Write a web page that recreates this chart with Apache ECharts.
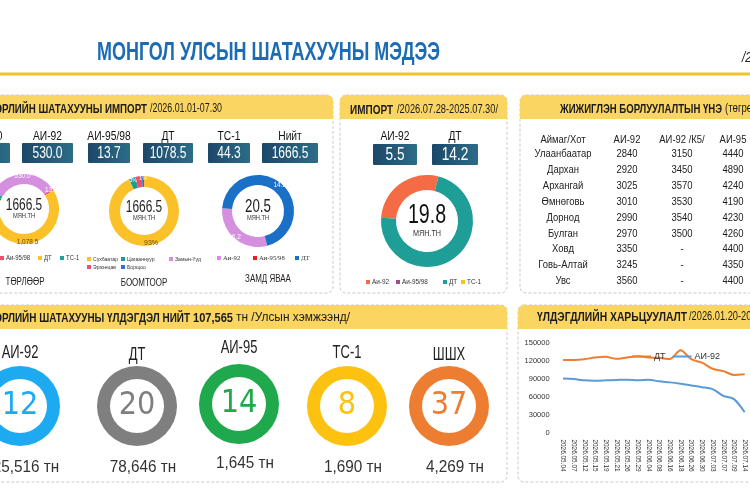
<!DOCTYPE html>
<html><head><meta charset="utf-8">
<script src="https://cdn.jsdelivr.net/npm/echarts@6/dist/echarts.min.js"></script>
<style>html,body{margin:0;padding:0;background:#fff}#c{width:750px;height:500px}</style>
</head><body><div id="c"></div>
<script>
// ---------- DATA ----------
const mainTitle = 'МОНГОЛ УЛСЫН ШАТАХУУНЫ МЭДЭЭ';
const impCats = ['АИ-80', 'АИ-92', 'АИ-95/98', 'ДТ', 'ТС-1', 'Нийт'];
const impBoxVals = ['0.0', '530.0', '13.7', '1078.5', '44.3', '1666.5'];
const typeNames = ['Аи-92', 'Аи-95/98', 'ДТ', 'ТС-1'];
const typeVals = [530.0, 13.7, 1078.5, 44.3];
const portNames = ['Сүхбаатар', 'Цагааннуур', 'Замын-Үүд', 'Эрээнцав', 'Борщоо'];
const portVals = [93, 3, 0, 3, 1];
const roadNames = ['Аи-92', 'Аи-95/98', 'ДТ'];
const roadVals = [6.2, 0, 14.2];
const weekCats = ['АИ-92', 'ДТ'];
const weekBoxVals = ['5.5', '14.2'];
const weekNames = ['Аи-92', 'Аи-95/98', 'ДТ', 'ТС-1'];
const weekVals = [5.5, 0, 14.2, 0];
const centerTotals = ['1666.5', '1666.5', '20.5', '19.8'];
const tblHead = ['Аймаг/Хот', 'АИ-92', 'АИ-92 /К5/', 'АИ-95'];
const tblPlaces = ['Улаанбаатар', 'Дархан', 'Архангай', 'Өмнөговь', 'Дорнод', 'Булган', 'Ховд', 'Говь-Алтай', 'Увс'];
const tblAi92 = ['2840', '2920', '3025', '3010', '2990', '2970', '3350', '3245', '3560'];
const tblAi92k5 = ['3150', '3450', '3570', '3530', '3540', '3500', '-', '-', '-'];
const tblAi95 = ['4440', '4890', '4240', '4190', '4230', '4260', '4400', '4350', '4400'];
const resNames = ['АИ-92', 'ДТ', 'АИ-95', 'ТС-1', 'ШШХ'];
const resDays = [12, 20, 14, 8, 37];
const resTons = ['25,516', '78,646', '1,645', '1,690', '4,269'];
const dates = ['2026.05.04', '2026.05.07', '2026.05.12', '2026.05.15', '2026.05.19', '2026.05.21', '2026.05.26', '2026.05.29', '2026.06.04', '2026.06.08', '2026.06.16', '2026.06.18', '2026.06.26', '2026.06.30', '2026.07.03', '2026.07.07', '2026.07.09', '2026.07.14'];
const dtStock = [121700, 121700, 122800, 125700, 126800, 123400, 125700, 128000, 125700, 125100, 123000, 138000, 122800, 117100, 106800, 102800, 96500, 97500];
const ai92Stock = [90300, 89700, 87400, 86900, 87400, 88000, 88600, 87400, 88600, 85700, 84000, 81700, 78900, 76000, 72600, 61500, 56000, 34000];
const yTicks = [0, 30000, 60000, 90000, 120000, 150000];

// ---------- STYLE / LAYOUT ----------
const LS = "'Liberation Sans',Arial,sans-serif";
const typeColors = ['#d58fdf', '#ef4f6d', '#fbc128', '#1fa598'];
const portColors = ['#fbc128', '#1f9a94', '#d58fdf', '#ef4f6d', '#2f6fd6'];
const roadColors = ['#d58fdf', '#e81e25', '#1a6fc6'];
const weekColors = ['#f36c45', '#a34c8b', '#1f9e98', '#f5c518'];
const resColors = ['#1eaaf1', '#7f7f7f', '#20a84c', '#fcc20f', '#ed7d31'];
const HEAD = '#fbd562';

const meas = document.createElement('canvas').getContext('2d');
function tw(text, font) { meas.font = font; return meas.measureText(text).width; }

const chart = echarts.init(document.getElementById('c'), null, {renderer: 'canvas'});
const g = [];
function txt(x, y, text, font, fill, align, sx) {
  g.push({type: 'text', x: x, y: y, z: 10, silent: true, scaleX: sx || 1,
    style: {text: text, font: font, fill: fill || '#222', textAlign: align || 'center', textVerticalAlign: 'middle'}});
}
function txtW(x, y, text, font, fill, align, width, measText) {
  txt(x, y, text, font, fill, align, width / tw(measText || text, font));
}
function rect(x, y, w, h, style, r) {
  g.push({type: 'rect', silent: true, z: 1, shape: {x: x, y: y, width: w, height: h, r: r || 0}, style: style});
}
const boxGrad = () => new echarts.graphic.LinearGradient(0, 0, 1, 0, [{offset: 0, color: '#1c486a'}, {offset: 1, color: '#2c6c86'}]);
const dashed = {fill: 'none', stroke: '#c9c9c9', lineWidth: 1, lineDash: [3, 2]};

// title
txtW(268.5, 53, mainTitle, "bold 25px " + LS, '#1b6cb5', 'center', 343);
txt(742, 58, '/2026.07.30/', "italic 14px " + LS, '#222', 'left', 0.85);
rect(0, 72.5, 750, 3, {fill: '#f3c232'});

// panels
const panels = [[-10, 95, 343, 198], [340, 95, 167, 198], [520, 95, 250, 198], [-10, 305, 517, 177], [518, 305, 250, 177]];
panels.forEach(p => {
  rect(p[0], p[1], p[2], p[3], dashed, 6);
  rect(p[0], p[1], p[2], 24, {fill: HEAD}, [6, 6, 0, 0]);
});
// headers
const HB = "bold 13px " + LS, HR = "12px " + LS;
txt(147, 109, 'ТӨРЛИЙН ШАТАХУУНЫ ИМПОРТ', HB, '#1a1a1a', 'right', 145 / tw('РЛИЙН ШАТАХУУНЫ ИМПОРТ', HB));
txtW(150, 109, '/2026.01.01-07.30', HR, '#1a1a1a', 'left', 72);
txtW(350, 110, 'ИМПОРТ', HB, '#1a1a1a', 'left', 43);
txtW(397, 110, '/2026.07.28-2025.07.30/', HR, '#1a1a1a', 'left', 101);
txtW(560, 109, 'ЖИЖИГЛЭН БОРЛУУЛАЛТЫН ҮНЭ', HB, '#1a1a1a', 'left', 162);
txt(725, 109, '(төгрөг)', HR, '#1a1a1a', 'left', 0.8);
txt(190, 318, 'ТӨРЛИЙН ШАТАХУУНЫ ҮЛДЭГДЭЛ НИЙТ', HB, '#1a1a1a', 'right', 188 / tw('РЛИЙН ШАТАХУУНЫ ҮЛДЭГДЭЛ НИЙТ', HB));
txtW(193, 318, '107,565', HB, '#1a1a1a', 'left', 40);
txtW(236, 318, 'тн /Улсын хэмжээнд/', HR, '#1a1a1a', 'left', 114);
txtW(537, 317, 'ҮЛДЭГДЛИЙН ХАРЬЦУУЛАЛТ', HB, '#1a1a1a', 'left', 150);
txtW(689, 317, '/2026.01.20-2026.07.30/', HR, '#1a1a1a', 'left', 101);

// import boxes
const impX = [-12, 47.5, 109, 168, 229, 290];
const impW = [44, 51, 42, 50, 42, 56];
impCats.forEach((c, i) => {
  txt(impX[i], 137, c, "12.5px " + LS, '#111', 'center', 0.82);
  rect(impX[i] - impW[i] / 2, 143, impW[i], 20, {fill: boxGrad()}, 1);
  txt(impX[i], 153.5, impBoxVals[i], "16px " + LS, '#fff', 'center', 0.75);
});
const wkX = [395, 455], wkW = [44, 46];
weekCats.forEach((c, i) => {
  txt(wkX[i], 137, c, "12.5px " + LS, '#111', 'center', 0.82);
  rect(wkX[i] - wkW[i] / 2, 144, wkW[i], 21, {fill: boxGrad()}, 1);
  txt(wkX[i], 155, weekBoxVals[i], "19px " + LS, '#fff', 'center', 0.72);
});

// donut centers
const dc = [[24, 209], [144, 211], [258, 211], [427, 221]];
[0, 1, 2].forEach(i => {
  txt(dc[i][0], dc[i][1] - 4, centerTotals[i], (i === 2 ? "19px " : "17px ") + LS, '#222', 'center', 0.7);
  txt(dc[i][0], dc[i][1] + 7.5, 'МЯН.ТН', "6.5px " + LS, '#333', 'center', 0.88);
});
txt(dc[3][0], dc[3][1] - 6, centerTotals[3], "28px " + LS, '#111', 'center', 0.7);
txt(dc[3][0], dc[3][1] + 13, 'МЯН.ТН', "8.5px " + LS, '#333', 'center', 0.85);
txt(25, 282, 'ТӨРЛӨӨР', "10.5px " + LS, '#222', 'center', 0.76);
txt(144, 283, 'БООМТООР', "10.5px " + LS, '#222', 'center', 0.76);
txt(268, 279, 'ЗАМД ЯВАА', "10.5px " + LS, '#222', 'center', 0.76);

// pie legends
function legend(names, colors, xs, ys, font, sx) {
  names.forEach((n, i) => {
    rect(xs[i] - 2, ys[i] - 2, 4, 4, {fill: colors[i]});
    txt(xs[i] + 4, ys[i], n, font, '#333', 'left', sx);
  });
}
legend(typeNames, typeColors, [-28, 2, 40, 62], [258, 258, 258, 258], "7px " + LS, 0.85);
legend(portNames, portColors, [89, 123, 171, 89, 123], [259, 259, 259, 267, 267], "6px " + LS, 0.85);
legend(roadNames, roadColors, [219, 255, 297], [258, 258, 258], "7px 'Liberation Serif',serif", 0.95);
legend(weekNames, weekColors, [368, 398, 445, 463], [282, 282, 282, 282], "7.5px " + LS, 0.85);

// table
const colX = [563, 627, 682, 733];
tblHead.forEach((h, c) => txt(colX[c], 140, h, "11px " + LS, '#222', 'center', 0.86));
tblPlaces.forEach((p, r) => {
  const y = 154 + 15.9 * r;
  [p, tblAi92[r], tblAi92k5[r], tblAi95[r]].forEach((v, c) => txt(colX[c], y, v, "11px " + LS, '#222', 'center', 0.86));
});

// residual labels
const resX = [20, 137, 239, 347, 449];
const resY = [406, 406, 404, 406, 406];
const resLY = [353, 355, 348, 353, 355];
const resTY = [467, 467, 463, 467, 467];
resNames.forEach((n, i) => {
  txt(resX[i], resLY[i], n, "18px " + LS, '#222', 'center', 0.72);
  txt(resX[i] + 6, resTY[i], resTons[i] + ' тн', "17px " + LS, '#333', 'center', 0.9);
});

// ---------- SERIES ----------
const pieBase = {type: 'pie', silent: true, animation: false, avoidLabelOverlap: false, labelLine: {show: false}};
function mk(names, vals, colors) {
  return names.map((n, i) => ({name: n, value: vals[i], itemStyle: {color: colors[i]}}));
}
const series = [];
const d1 = mk(typeNames, typeVals, typeColors);
d1[2].label = {color: '#6b5000'};
series.push(Object.assign({}, pieBase, {center: dc[0], radius: [25, 35], startAngle: 150, data: d1,
  label: {show: true, position: 'inside', fontSize: 6.5, fontFamily: LS, color: '#fff',
    formatter: p => p.value ? p.value.toLocaleString('en-US', {minimumFractionDigits: 1}) : ''}}));
const d2 = mk(portNames, portVals, portColors);
d2[0].label = {color: '#6b5000', fontSize: 7};
series.push(Object.assign({}, pieBase, {center: dc[1], radius: [24, 35], startAngle: 90, percentPrecision: 0, data: d2,
  label: {show: true, position: 'inside', fontSize: 5, fontFamily: LS, color: '#fff', formatter: p => p.value ? p.percent + '%' : ''}}));
series.push(Object.assign({}, pieBase, {center: dc[2], radius: [26, 36], startAngle: 285, data: mk(roadNames, roadVals, roadColors),
  label: {show: true, position: 'inside', fontSize: 6.5, fontFamily: LS, color: '#fff', formatter: p => p.value ? p.value.toFixed(1) : ''}}));
series.push(Object.assign({}, pieBase, {center: dc[3], radius: [31, 46], startAngle: 176, data: mk(weekNames, weekVals, weekColors),
  label: {show: false}}));
resNames.forEach((n, i) => {
  series.push(Object.assign({}, pieBase, {center: [resX[i], resY[i]], radius: [27, 40],
    data: [{name: n, value: resDays[i], itemStyle: {color: resColors[i]}}],
    label: {show: true, position: 'center', formatter: '{c}', fontSize: 32, fontFamily: "'DejaVu Sans Condensed',sans-serif", color: resColors[i]}}));
});
series.push({type: 'line', name: 'ДТ', data: dtStock, smooth: 0.3, symbol: 'none', lineStyle: {width: 2, color: '#ed7d31'}, itemStyle: {color: '#ed7d31'}, z: 3});
series.push({type: 'line', name: 'АИ-92', data: ai92Stock, smooth: 0.3, symbol: 'none', lineStyle: {width: 2, color: '#5b9bd5'}, itemStyle: {color: '#5b9bd5'}, z: 3});

chart.setOption({
  animation: false,
  backgroundColor: '#fff',
  graphic: {elements: g},
  grid: {left: 557.6, top: 343, width: 204.7, height: 89.5, containLabel: false},
  legend: {left: 627, top: 347, itemWidth: 19, itemHeight: 2, icon: 'rect', itemGap: 7, data: ['ДТ', 'АИ-92'],
    textStyle: {fontSize: 9, color: '#333', fontFamily: LS, padding: [0, 0, 0, -2]}},
  xAxis: {type: 'category', data: dates, boundaryGap: true, axisLine: {show: false}, axisTick: {show: false},
    axisLabel: {rotate: -90, interval: 0, fontSize: 6.4, margin: 7, color: '#333', fontFamily: LS}},
  yAxis: {type: 'value', min: yTicks[0], max: yTicks[yTicks.length - 1], interval: yTicks[1] - yTicks[0], splitLine: {show: false},
    axisLine: {show: false}, axisTick: {show: false},
    axisLabel: {fontSize: 7.5, margin: 8, color: '#333', fontFamily: LS, formatter: v => String(v)}},
  series: series
});
</script></body></html>
